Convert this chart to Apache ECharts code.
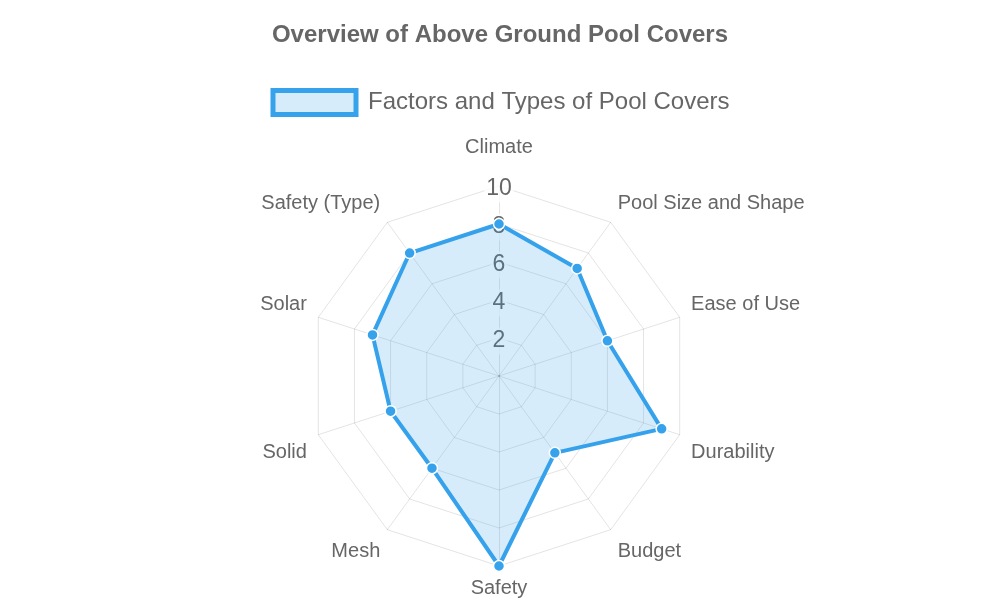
<!DOCTYPE html>
<html>
<head>
<meta charset="utf-8">
<script src="https://cdn.jsdelivr.net/npm/echarts@6/dist/echarts.min.js"></script>
<style>html,body{margin:0;padding:0;background:#fff}#c{width:1000px;height:600px}</style>
</head>
<body>
<div id="c"></div>
<script>
const titleText = 'Overview of Above Ground Pool Covers';
const seriesName = 'Factors and Types of Pool Covers';
const categories = ['Climate','Pool Size and Shape','Ease of Use','Durability','Budget','Safety','Mesh','Solid','Solar','Safety (Type)'];
const values = [8, 7, 6, 9, 5, 10, 6, 6, 7, 8];
const axisMin = 0, axisMax = 10, tickStep = 2;

// ECharts radar lays indicators counter-clockwise; reorder so they run clockwise like the reference
const order = [0].concat(categories.map((_, i) => i).slice(1).reverse());
const indCats = order.map(i => categories[i]);
const indVals = order.map(i => values[i]);

const FONT = "'Liberation Sans', Arial, Helvetica, sans-serif";
const blue = '#36A2EB';
const nameBase = {fontFamily: FONT, fontSize: 20, color: '#666'};
// vertical nudges of the point labels, by position around the chart (0 = top, clockwise)
const padByPos = [[0,0,17,0],[0,0,19,0],[0,0,18,0],[28,0,0,0],[25,0,0,0],[0,0,2,0],[25,0,0,0],[28,0,0,0],[0,0,18,0],[0,0,19,0]];
const rich = {};
padByPos.forEach((p, i) => { rich['p' + i] = Object.assign({padding: p}, nameBase); });

const chart = echarts.init(document.getElementById('c'));
chart.setOption({
  animation: false,
  title: {
    text: titleText, left: 'center', top: 18,
    textStyle: {fontFamily: FONT, fontSize: 24, fontWeight: 'bold', color: '#666'}
  },
  legend: {
    top: 83, left: 'center',
    data: [{name: seriesName, icon: 'rect', itemStyle: {color: 'rgba(54,162,235,0.2)', borderColor: blue, borderWidth: 5}}],
    itemWidth: 83, itemHeight: 24,
    textStyle: {fontFamily: FONT, fontSize: 24, color: '#666', padding: [0, 0, 0, 7]}
  },
  radar: {
    center: [499, 376], radius: 190, shape: 'polygon', splitNumber: 5,
    indicator: indCats.map(n => ({name: n, min: axisMin, max: axisMax})),
    axisName: Object.assign({
      formatter: n => {
        const ci = categories.indexOf(n);
        return '{p' + ci + '|' + n + '}';
      },
      rich: rich
    }, nameBase),
    nameGap: 12,
    splitLine: {lineStyle: {color: 'rgba(0,0,0,0.11)', width: 1}},
    splitArea: {show: false},
    axisLine: {lineStyle: {color: 'rgba(0,0,0,0.11)', width: 1}},
    axisTick: {show: false},
    axisLabel: {show: false}
  },
  // tick labels: a polar radius axis laid over the radar, sitting a touch lower like the reference
  polar: {center: [499, 379], radius: 190},
  angleAxis: {show: false, startAngle: 90, min: 0, max: 360},
  radiusAxis: {
    min: axisMin, max: axisMax, interval: tickStep, z: 1,
    axisLine: {show: false}, axisTick: {show: false}, splitLine: {show: false},
    axisLabel: {
      show: true, margin: 0, align: 'center', verticalAlign: 'middle', rotate: 0,
      showMinLabel: false,
      fontFamily: FONT, fontSize: 23, color: '#666',
      backgroundColor: 'rgba(255,255,255,0.75)', padding: [3, 2, 1, 2]
    }
  },
  series: [{
    type: 'radar', z: 3, name: seriesName,
    symbol: 'circle', symbolSize: 11,
    itemStyle: {color: blue, borderColor: '#fff', borderWidth: 1.5},
    lineStyle: {color: blue, width: 4},
    areaStyle: {color: blue, opacity: 0.2},
    data: [{name: seriesName, value: indVals}]
  }]
});
</script>
</body>
</html>
